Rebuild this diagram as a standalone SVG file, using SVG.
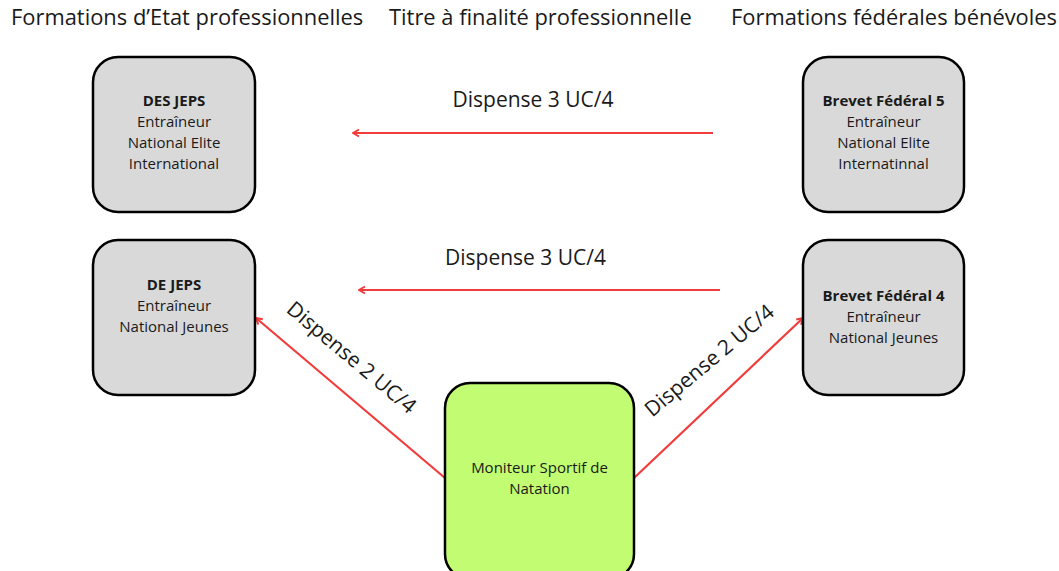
<svg xmlns="http://www.w3.org/2000/svg" width="1059" height="571" viewBox="0 0 1059 571">
<defs>
<style>
text{font-family:"Open Sans","Noto Sans","Liberation Sans",sans-serif;fill:#1a1a1a}
.h{font-size:21.9px}
.n{font-size:15px;text-anchor:middle}
.b{font-weight:bold}
.lbl{font-size:21px;text-anchor:middle}
.box{fill:#d9d9d9;stroke:#000;stroke-width:2.5}
.green{fill:#c1fc72;stroke:#000;stroke-width:2.5}
.c{stroke:#f23b3b;stroke-width:2.2;fill:none}
</style>
<marker id="ah" viewBox="0 0 10 10" refX="9" refY="5" markerWidth="10" markerHeight="10" markerUnits="userSpaceOnUse" orient="auto">
<polyline points="3,1.5 9,5 3,8.5" fill="none" stroke="#f23b3b" stroke-width="2"/>
</marker>
</defs>
<rect width="1059" height="571" fill="#fff"/>
<text class="h" x="11" y="25">Formations d’Etat professionnelles</text>
<text class="h" x="389" y="25">Titre à finalité professionnelle</text>
<text class="h" x="731" y="25">Formations fédérales bénévoles</text>

<g id="connectors">
<line class="c" x1="713" y1="133" x2="353" y2="133" marker-end="url(#ah)"/>
<line class="c" x1="720" y1="290" x2="359" y2="290" marker-end="url(#ah)"/>
<line class="c" x1="445" y1="478" x2="256" y2="318" marker-end="url(#ah)"/>
<line class="c" x1="634" y1="478" x2="803" y2="318" marker-end="url(#ah)"/>
<text class="lbl" x="533" y="107">Dispense 3 UC/4</text>
<text class="lbl" x="525.5" y="265">Dispense 3 UC/4</text>
<text class="lbl" transform="translate(347,363) rotate(40)">Dispense 2 UC/4</text>
<text class="lbl" transform="translate(714,366) rotate(-40)">Dispense 2 UC/4</text>
</g>

<g id="node-desjeps">
<rect class="box" x="93" y="57" width="162" height="155" rx="25"/>
<text class="n" x="174" y="106"><tspan class="b">DES JEPS</tspan><tspan x="174" dy="21">Entraîneur</tspan><tspan x="174" dy="21">National Elite</tspan><tspan x="174" dy="21">International</tspan></text>
</g>
<g id="node-bf5">
<rect class="box" x="803" y="57" width="161" height="155" rx="25"/>
<text class="n" x="883.5" y="106"><tspan class="b">Brevet Fédéral 5</tspan><tspan x="883.5" dy="21">Entraîneur</tspan><tspan x="883.5" dy="21">National Elite</tspan><tspan x="883.5" dy="21">Internatinnal</tspan></text>
</g>
<g id="node-dejeps">
<rect class="box" x="93" y="240" width="162" height="155" rx="25"/>
<text class="n" x="174" y="290"><tspan class="b">DE JEPS</tspan><tspan x="174" dy="21">Entraîneur</tspan><tspan x="174" dy="21">National Jeunes</tspan></text>
</g>
<g id="node-bf4">
<rect class="box" x="803" y="240" width="161" height="155" rx="25"/>
<text class="n" x="883.5" y="301"><tspan class="b">Brevet Fédéral 4</tspan><tspan x="883.5" dy="21">Entraîneur</tspan><tspan x="883.5" dy="21">National Jeunes</tspan></text>
</g>
<g id="node-msn">
<rect class="green" x="445" y="383" width="189" height="196" rx="25"/>
<text class="n" x="539.5" y="473">Moniteur Sportif de<tspan x="539.5" dy="21">Natation</tspan></text>
</g>
</svg>
